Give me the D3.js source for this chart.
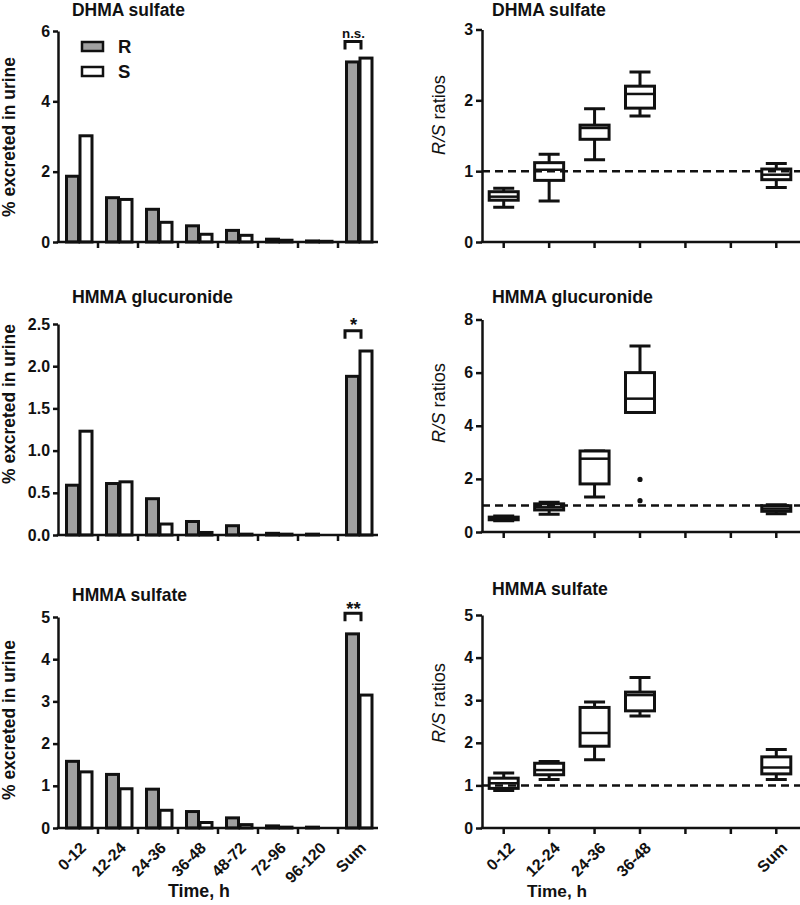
<!DOCTYPE html>
<html><head><meta charset="utf-8">
<script src="https://cdn.jsdelivr.net/npm/d3@7"></script>
<style>
body{margin:0;background:#fff;}
svg{display:block;font-family:"Liberation Sans",Arial,Helvetica,sans-serif;}
</style></head><body>
<svg id="chart" width="800" height="905"></svg>
<script>
// ---------- DATA ----------
const timeCats = ["0-12","12-24","24-36","36-48","48-72","72-96","96-120","Sum"];
const groups = ["R","S"];
const ratioCats = ["0-12","12-24","24-36","36-48","gap1","gap2","Sum"];
const ratioTickLabels = ["0-12","12-24","24-36","36-48","","","Sum"];

const dhmaSulfateR = [1.87,1.26,0.93,0.46,0.33,0.08,0.03,5.12];
const dhmaSulfateS = [3.02,1.21,0.56,0.22,0.19,0.05,0.02,5.23];
const hmmaGlucR    = [0.59,0.61,0.43,0.16,0.11,0.02,0.01,1.88];
const hmmaGlucS    = [1.23,0.63,0.13,0.03,0.01,0.01,0.00,2.18];
const hmmaSulfR    = [1.58,1.27,0.92,0.39,0.24,0.05,0.02,4.60];
const hmmaSulfS    = [1.33,0.93,0.42,0.13,0.08,0.02,0.00,3.15];

const leftTicks1 = [0,2,4,6];
const leftTicks2 = [0,0.5,1.0,1.5,2.0,2.5];
const leftTicks3 = [0,1,2,3,4,5];
const rightTicks1 = [0,1,2,3];
const rightTicks2 = [0,2,4,6,8];
const rightTicks3 = [0,1,2,3,4,5];

// box stats per ratio category: [min, q1, median, q3, max] (null = no box)
const dhmaSulfateBox = [
  [0.49,0.59,0.64,0.71,0.76],
  [0.58,0.87,1.02,1.12,1.24],
  [1.16,1.45,1.61,1.65,1.88],
  [1.78,1.89,2.09,2.20,2.40],
  null, null,
  [0.77,0.88,0.95,1.03,1.11]
];
const hmmaGlucBox = [
  [0.42,0.46,0.50,0.56,0.60],
  [0.67,0.83,0.93,1.06,1.12],
  [1.32,1.81,2.76,3.05,3.05],
  [4.50,4.50,5.02,6.00,7.00],
  null, null,
  [0.69,0.78,0.88,0.99,1.03]
];
const hmmaGlucOutliers = [["36-48",1.98],["36-48",1.18]];
const hmmaSulfBox = [
  [0.88,0.93,1.05,1.17,1.29],
  [1.14,1.25,1.36,1.52,1.56],
  [1.60,1.92,2.23,2.83,2.96],
  [2.63,2.75,3.12,3.19,3.53],
  null, null,
  [1.14,1.27,1.42,1.67,1.84]
];

const sigLabels = ["n.s.","*","**"];
const sigBracketValues = [5.70,2.42,5.09];
const titlesLeft = ["DHMA sulfate","HMMA glucuronide","HMMA sulfate"];
const titlesRight = ["DHMA sulfate","HMMA glucuronide","HMMA sulfate"];

// ---------- DRAW ----------
const svg = d3.select("#chart");

const probe = svg.append("text").text("DHMA sulfate").style("font-size","17px").style("font-weight","bold");
const FS = 113 / probe.node().getComputedTextLength();
probe.remove();
const fs = v => (v*FS).toFixed(2)+"px";

function fit(sel, target){
  const w = sel.node().getComputedTextLength();
  const cur = parseFloat(sel.style("font-size"));
  if (w>0) sel.style("font-size", (cur*target/w).toFixed(2)+"px");
  return sel;
}

function styleAxis(g){
  g.selectAll(".domain").attr("stroke","#111").attr("stroke-width",2.5);
  g.selectAll(".tick line").attr("stroke","#111").attr("stroke-width",2.5);
  g.selectAll(".tick text").attr("fill","#111").style("font-size",fs(15.5)).style("font-weight","bold");
}

function barPanel(cfg){
  const g = svg.append("g");
  const y = d3.scaleLinear().domain([0,cfg.max]).range([cfg.yBottom,cfg.yTop]);
  const x0 = d3.scaleBand().domain(timeCats).range([58,378]);
  const x1 = d3.scaleBand().domain(groups).range([7,34]);
  const series = {R:cfg.R, S:cfg.S};
  groups.forEach(s=>{
    g.append("g").selectAll("rect").data(timeCats.map((c,i)=>({c,v:series[s][i]})))
      .join("rect")
      .attr("x",d=>x0(d.c)+x1(s)+1.5)
      .attr("width",x1.bandwidth()-1.5)
      .attr("y",d=>y(d.v))
      .attr("height",d=>y(0)-y(d.v))
      .attr("fill",s==="R"?"#a0a0a0":"#fff")
      .attr("stroke","#111").attr("stroke-width",3);
  });
  const ya = g.append("g").attr("transform","translate(58,0)")
    .call(d3.axisLeft(y).tickValues(cfg.ticks).tickFormat(cfg.fmt).tickSize(5).tickSizeOuter(0).tickPadding(3));
  styleAxis(ya);
  const xa = g.append("g").attr("transform",`translate(0,${y(0)})`)
    .call(d3.axisBottom(x0).tickSize(0).tickSizeOuter(0).tickFormat(cfg.labels?d=>d:()=>""));
  styleAxis(xa);
  xa.select(".domain").attr("d",`M56.75,0H378`);
  xa.selectAll(".tick text")
    .attr("text-anchor","end")
    .attr("transform","translate(5,17) rotate(-45)")
    .attr("dy","0.35em").attr("y",0).attr("x",0);
  g.append("g").selectAll("line").data(timeCats.slice(1)).join("line")
    .attr("x1",d=>x0(d)).attr("x2",d=>x0(d))
    .attr("y1",y(0)).attr("y2",y(0)+6)
    .attr("stroke","#111").attr("stroke-width",2.5);
  fit(g.append("text").attr("x",72).attr("y",cfg.titleY).text(cfg.title)
    .style("font-size","17px").style("font-weight","bold").attr("fill","#111"), cfg.titleW);
  fit(g.append("text").attr("transform",`translate(15,${cfg.ylabY}) rotate(-90)`)
    .attr("text-anchor","middle").text("% excreted in urine")
    .style("font-size","17px").style("font-weight","bold").attr("fill","#111"), 160);
  const bx = x0("Sum");
  const by = y(cfg.sigVal);
  g.append("path").attr("d",`M${bx+7},${by+8}V${by}H${bx+23}V${by+8}`)
    .attr("fill","none").attr("stroke","#111").attr("stroke-width",3);
  g.append("text").attr("x",bx+15.5).attr("y",by+cfg.sigDy).attr("text-anchor","middle")
    .text(cfg.sig).style("font-size",fs(cfg.sigSize)).style("font-weight","bold").attr("fill","#111");
  return {g,y,x0};
}

function boxPanel(cfg){
  const g = svg.append("g");
  const y = d3.scaleLinear().domain([0,cfg.max]).range([cfg.yBottom,cfg.yTop]);
  const x = d3.scaleBand().domain(ratioCats).range([481,799]);
  const cx = c=>x(c)+x.bandwidth()/2;
  const data = ratioCats.map((c,i)=>({c,s:cfg.box[i]})).filter(d=>d.s);
  const bg = g.append("g");
  bg.selectAll(".wh").data(data).join("path")
    .attr("d",d=>`M${cx(d.c)},${y(d.s[4])}V${y(d.s[3])}M${cx(d.c)},${y(d.s[1])}V${y(d.s[0])}`
      +`M${cx(d.c)-10.5},${y(d.s[4])}H${cx(d.c)+10.5}M${cx(d.c)-10.5},${y(d.s[0])}H${cx(d.c)+10.5}`)
    .attr("fill","none").attr("stroke","#111").attr("stroke-width",3);
  bg.selectAll(".bx").data(data).join("rect")
    .attr("x",d=>cx(d.c)-14.5).attr("width",29)
    .attr("y",d=>y(d.s[3])).attr("height",d=>y(d.s[1])-y(d.s[3]))
    .attr("fill","#fff").attr("stroke","#111").attr("stroke-width",3);
  bg.selectAll(".md").data(data).join("line")
    .attr("x1",d=>cx(d.c)-14.5).attr("x2",d=>cx(d.c)+14.5)
    .attr("y1",d=>y(d.s[2])).attr("y2",d=>y(d.s[2]))
    .attr("stroke","#111").attr("stroke-width",2.5);
  if(cfg.outliers){
    bg.selectAll("circle").data(cfg.outliers).join("circle")
      .attr("cx",d=>cx(d[0])).attr("cy",d=>y(d[1])).attr("r",2.6).attr("fill","#111");
  }
  g.append("line").attr("x1",482).attr("x2",800).attr("y1",y(1)).attr("y2",y(1))
    .attr("stroke","#111").attr("stroke-width",2.5).attr("stroke-dasharray","8,5");
  const ya = g.append("g").attr("transform","translate(482,0)")
    .call(d3.axisLeft(y).tickValues(cfg.ticks).tickFormat(d3.format("d")).tickSize(6).tickSizeOuter(0).tickPadding(3));
  styleAxis(ya);
  const xa = g.append("g").attr("transform",`translate(0,${y(0)})`)
    .call(d3.axisBottom(x).tickSize(6).tickSizeOuter(0)
      .tickFormat(cfg.labels?(d,i)=>ratioTickLabels[i]:()=>""));
  styleAxis(xa);
  xa.select(".domain").attr("d","M480.75,0H800");
  xa.selectAll(".tick text")
    .attr("text-anchor","end")
    .attr("transform","translate(8,17) rotate(-45)")
    .attr("dy","0.35em").attr("y",0).attr("x",0);
  fit(g.append("text").attr("x",492).attr("y",cfg.titleY).text(cfg.title)
    .style("font-size","17px").style("font-weight","bold").attr("fill","#111"), cfg.titleW);
  const t = g.append("text").attr("transform",`translate(445,${cfg.ylabY}) rotate(-90)`)
    .attr("text-anchor","middle").style("font-size","18px").attr("fill","#111");
  t.append("tspan").style("font-style","italic").text("R/S");
  t.append("tspan").text(" ratios");
  fit(t, 80);
}

barPanel({R:dhmaSulfateR,S:dhmaSulfateS,max:6,yTop:31,yBottom:242,ticks:leftTicks1,fmt:d3.format("d"),
  title:titlesLeft[0],titleW:113,titleY:16,ylabY:137,sig:sigLabels[0],sigVal:sigBracketValues[0],sigDy:-4,sigSize:13});
barPanel({R:hmmaGlucR,S:hmmaGlucS,max:2.5,yTop:324,yBottom:535,ticks:leftTicks2,fmt:d3.format(".1f"),
  title:titlesLeft[1],titleW:161,titleY:303,ylabY:404,sig:sigLabels[1],sigVal:sigBracketValues[1],sigDy:0,sigSize:18});
barPanel({R:hmmaSulfR,S:hmmaSulfS,max:5,yTop:617,yBottom:828,ticks:leftTicks3,fmt:d3.format("d"),
  title:titlesLeft[2],titleW:115,titleY:601,ylabY:720,sig:sigLabels[2],sigVal:sigBracketValues[2],sigDy:2,sigSize:18,labels:true});

const leg = svg.append("g");
groups.forEach((s,i)=>{
  leg.append("rect").attr("x",82).attr("y",42+i*25).attr("width",21).attr("height",9)
    .attr("fill",s==="R"?"#a0a0a0":"#fff").attr("stroke","#111").attr("stroke-width",2.5);
  leg.append("text").attr("x",118).attr("y",53+i*25).text(s)
    .style("font-size",fs(18)).style("font-weight","bold").attr("fill","#111");
});

boxPanel({box:dhmaSulfateBox,max:3,yTop:29.5,yBottom:242,ticks:rightTicks1,title:titlesRight[0],titleW:114,titleY:16,ylabY:115});
boxPanel({box:hmmaGlucBox,outliers:hmmaGlucOutliers,max:8,yTop:319.5,yBottom:532,ticks:rightTicks2,title:titlesRight[1],titleW:161,titleY:303,ylabY:403});
boxPanel({box:hmmaSulfBox,max:5,yTop:615,yBottom:828,ticks:rightTicks3,title:titlesRight[2],titleW:116,titleY:595,ylabY:703,labels:true});

fit(svg.append("text").attr("x",199).attr("y",897).attr("text-anchor","middle").text("Time, h")
  .style("font-size","18px").style("font-weight","bold").attr("fill","#111"), 62);
fit(svg.append("text").attr("x",557).attr("y",897).attr("text-anchor","middle").text("Time, h")
  .style("font-size","18px").style("font-weight","bold").attr("fill","#111"), 60);
</script>
</body></html>
